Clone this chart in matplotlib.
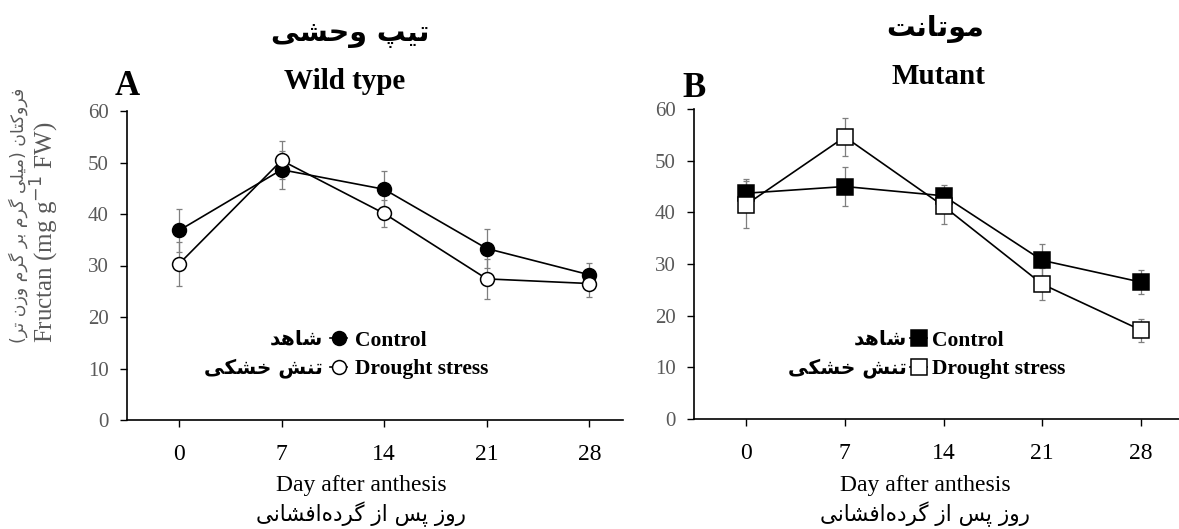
import matplotlib
matplotlib.use('Agg')
import matplotlib.pyplot as plt

# data
days = [0, 7, 14, 21, 28]
wt_control = [36.8, 48.6, 44.8, 33.3, 28.2]
wt_control_err = [4.1, 3.7, 3.6, 3.7, 2.3]
wt_drought = [30.3, 50.4, 40.1, 27.4, 26.5]
wt_drought_err = [4.3, 3.7, 2.6, 3.9, 2.7]
mut_control = [43.7, 45.0, 43.2, 30.7, 26.5]
mut_control_err = [2.8, 3.7, 2.0, 3.2, 2.4]
mut_drought = [41.5, 54.6, 41.2, 26.1, 17.2]
mut_drought_err = [4.5, 3.6, 3.4, 3.1, 2.2]
yticks = [0, 10, 20, 30, 40, 50, 60]

title_fa_a = 'تیپ وحشی'
title_fa_b = 'موتانت'
ylabel_fa = 'فروکتان (میلی گرم بر گرم وزن تر)'
xlabel_fa = 'روز پس از گرده\u200cافشانی'
control_fa = 'شاهد'
drought_fa = 'تنش خشکی'

# isolated, final, initial, medial presentation forms
FORMS = {
    'ا': ('\uFE8D', '\uFE8E', None, None),
    'ب': ('\uFE8F', '\uFE90', '\uFE91', '\uFE92'),
    'پ': ('\uFB56', '\uFB57', '\uFB58', '\uFB59'),
    'ت': ('\uFE95', '\uFE96', '\uFE97', '\uFE98'),
    'ح': ('\uFEA1', '\uFEA2', '\uFEA3', '\uFEA4'),
    'خ': ('\uFEA5', '\uFEA6', '\uFEA7', '\uFEA8'),
    'د': ('\uFEA9', '\uFEAA', None, None),
    'ر': ('\uFEAD', '\uFEAE', None, None),
    'ز': ('\uFEAF', '\uFEB0', None, None),
    'س': ('\uFEB1', '\uFEB2', '\uFEB3', '\uFEB4'),
    'ش': ('\uFEB5', '\uFEB6', '\uFEB7', '\uFEB8'),
    'ف': ('\uFED1', '\uFED2', '\uFED3', '\uFED4'),
    'ک': ('\uFB8E', '\uFB8F', '\uFB90', '\uFB91'),
    'گ': ('\uFB92', '\uFB93', '\uFB94', '\uFB95'),
    'ل': ('\uFEDD', '\uFEDE', '\uFEDF', '\uFEE0'),
    'م': ('\uFEE1', '\uFEE2', '\uFEE3', '\uFEE4'),
    'ن': ('\uFEE5', '\uFEE6', '\uFEE7', '\uFEE8'),
    'ه': ('\uFEE9', '\uFEEA', '\uFEEB', '\uFEEC'),
    'و': ('\uFEED', '\uFEEE', None, None),
    'ی': ('\uFBFC', '\uFBFD', '\uFBFE', '\uFBFF'),
}


def fa(s):
    out = []
    for i, c in enumerate(s):
        if c not in FORMS:
            if c != '\u200c':
                out.append(c)
            continue
        prev = s[i - 1] if i > 0 else None
        nxt = s[i + 1] if i + 1 < len(s) else None
        join_prev = prev in FORMS and FORMS[prev][2] is not None
        join_next = FORMS[c][2] is not None and nxt in FORMS
        iso, fin, ini, med = FORMS[c]
        if join_prev and join_next:
            out.append(med)
        elif join_prev:
            out.append(fin)
        elif join_next:
            out.append(ini)
        else:
            out.append(iso)
    return ''.join(reversed(out)).translate(str.maketrans('()', ')('))


W, H = 1179, 529


def fx(x):
    return x / W


def fy(y):
    return 1 - y / H


SERIF = 'Liberation Serif'
FA = 'DejaVu Sans'
GRAY = '#595959'

fig = plt.figure(figsize=(W / 100, H / 100), dpi=100)
ax_a = fig.add_axes([fx(127), fy(420), fx(623) - fx(127), fy(111) - fy(420)])
ax_b = fig.add_axes([fx(694), fy(419), fx(1179) - fx(694), fy(109) - fy(419)])


def panel(ax, control, control_err, drought, drought_err, marker, ms, xlim):
    ax.errorbar(days, control, yerr=control_err, fmt='none', ecolor='#7f7f7f',
                elinewidth=0.9, capsize=2.5, capthick=0.9, zorder=2)
    ax.errorbar(days, drought, yerr=drought_err, fmt='none', ecolor='#7f7f7f',
                elinewidth=0.9, capsize=2.5, capthick=0.9, zorder=2)
    lc, = ax.plot(days, control, color='black', lw=1.2, marker=marker, ms=ms,
                  mfc='black', mec='black', mew=1.1, zorder=3)
    ld, = ax.plot(days, drought, color='black', lw=1.2, marker=marker, ms=ms,
                  mfc='white', mec='black', mew=1.1, zorder=4)
    ax.set_xlim(*xlim)
    ax.set_ylim(0, 60)
    ax.set_xticks(days)
    ax.set_yticks(yticks)
    for s in ['top', 'right']:
        ax.spines[s].set_visible(False)
    for s in ['left', 'bottom']:
        ax.spines[s].set_linewidth(1.2)
    ax.tick_params(axis='y', direction='out', length=5, width=1, labelsize=15,
                   labelcolor=GRAY, pad=8)
    ax.tick_params(axis='x', direction='out', length=5, width=1, labelsize=17,
                   pad=12)
    for lab in ax.get_xticklabels() + ax.get_yticklabels():
        lab.set_family(SERIF)
    return lc, ld


lc_a, ld_a = panel(ax_a, wt_control, wt_control_err, wt_drought, wt_drought_err,
                   'o', 10, (-3.55, 30.3))
lc_b, ld_b = panel(ax_b, mut_control, mut_control_err, mut_drought, mut_drought_err,
                   's', 11, (-3.7, 30.7))

legend_font = {'family': SERIF, 'weight': 'bold', 'size': 15.5}
fig.legend([lc_a, ld_a], ['Control', 'Drought stress'], loc='center left',
           bbox_to_anchor=(fx(330), fy(355)), frameon=False, handlelength=0.8,
           handletextpad=0.35, labelspacing=0.38, borderpad=0, borderaxespad=0,
           prop=legend_font)
fig.legend([lc_b, ld_b], ['Control', 'Drought stress'], loc='center left',
           bbox_to_anchor=(fx(910), fy(355)), frameon=False, handlelength=0.8,
           handletextpad=0.2, labelspacing=0.38, borderpad=0, borderaxespad=0,
           prop=legend_font)

for xr, y1, y2 in [(323, 339, 368), (907, 339, 368)]:
    fig.text(fx(xr), fy(y1), fa(control_fa), ha='right', va='center',
             family=FA, weight='bold', fontsize=14.5)
    fig.text(fx(xr), fy(y2), fa(drought_fa), ha='right', va='center',
             family=FA, weight='bold', fontsize=14.5)

# titles
fig.text(fx(350), fy(34), fa(title_fa_a), ha='center', va='center',
         family=FA, weight='bold', fontsize=20.5)
fig.text(fx(345), fy(89), 'Wild type', ha='center', va='baseline',
         family=SERIF, weight='bold', fontsize=21)
fig.text(fx(935), fy(29), fa(title_fa_b), ha='center', va='center',
         family=FA, weight='bold', fontsize=20.5)
fig.text(fx(938), fy(84), 'Mutant', ha='center', va='baseline',
         family=SERIF, weight='bold', fontsize=21)
fig.text(fx(127), fy(95), 'A', ha='center', va='baseline',
         family=SERIF, weight='bold', fontsize=25)
fig.text(fx(694), fy(97), 'B', ha='center', va='baseline',
         family=SERIF, weight='bold', fontsize=25)

# y label
fig.text(fx(18), fy(215), fa(ylabel_fa), rotation=90, ha='center', va='center',
         family=FA, fontsize=12.5, color=GRAY)
fig.text(fx(45), fy(232), 'Fructan (mg g$^{-1}$ FW)', rotation=90, ha='center',
         va='center', family=SERIF, fontsize=18, color=GRAY)

# x labels
for xc in [361, 925]:
    fig.text(fx(xc), fy(486), 'Day after anthesis', ha='center', va='center',
             family=SERIF, fontsize=17)
    fig.text(fx(xc), fy(514), fa(xlabel_fa), ha='center', va='center',
             family=FA, fontsize=15.5)

fig.savefig('out.png', dpi=100)
